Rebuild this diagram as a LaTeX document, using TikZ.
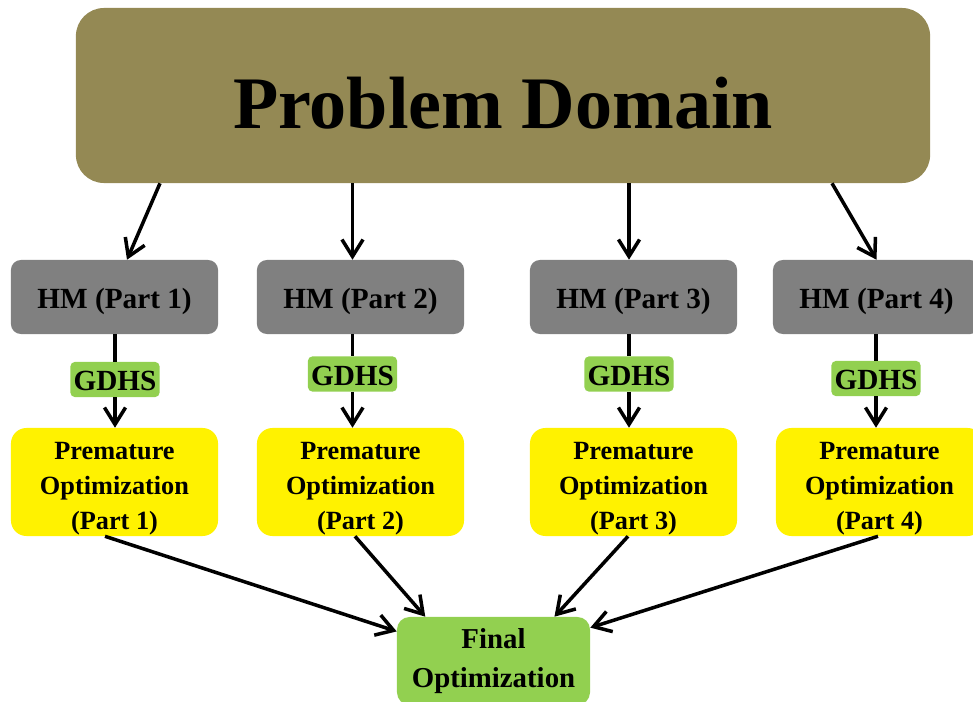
\documentclass[tikz,border=0pt]{standalone}
\usepackage{fontspec}
\setmainfont{Liberation Serif}
\usetikzlibrary{arrows.meta,calc}
\definecolor{domainolive}{RGB}{148,137,84}
\definecolor{hmgray}{RGB}{128,128,128}
\definecolor{gdhsgreen}{RGB}{146,208,80}

\begin{document}
\begin{tikzpicture}[x=0.025cm, y=-0.025cm,
  every node/.style = {shape=rectangle, align=center, inner sep=0pt},
  pdbox/.style = {fill=domainolive, rounded corners=20pt,
    minimum width=21.35cm, minimum height=4.375cm,
    font=\fontsize{52.7}{60}\selectfont\bfseries,
    text height=47pt, text depth=0pt},
  hmbox/.style = {fill=hmgray, rounded corners=7pt,
    minimum width=5.175cm, minimum height=1.85cm,
    font=\fontsize{20.8}{25}\selectfont\bfseries,
    text height=21pt, text depth=4.5pt},
  gdhsbox/.style = {fill=gdhsgreen, rounded corners=3pt,
    minimum width=2.225cm, minimum height=0.875cm,
    font=\fontsize{20.8}{25}\selectfont\bfseries,
    text height=16pt, text depth=0pt},
  prebox/.style = {fill=yellow, rounded corners=11pt,
    minimum width=5.175cm, minimum height=2.7cm,
    font=\fontsize{18.7}{24.9}\selectfont\bfseries,
    text height=72pt, text depth=4pt},
  finalbox/.style = {fill=gdhsgreen, rounded corners=9pt,
    minimum width=4.825cm, minimum height=2.2cm,
    font=\fontsize{20.5}{27.7}\selectfont\bfseries},
  wire/.style = {line width=2.5pt},
  link/.style = {wire, -{Straight Barb[length=12pt,width=15pt]}}]
  \useasboundingbox (0,0) rectangle (973,702);

  \node [pdbox] (pd) at (503,95.5) {Problem Domain};

  % heuristic method for each part
  \node [hmbox] (hm1) at (114.5,297) {HM (Part 1)};
  \node [hmbox] (hm2) at (360.5,297) {HM (Part 2)};
  \node [hmbox] (hm3) at (633.5,297) {HM (Part 3)};
  \node [hmbox] (hm4) at (876.5,297) {HM (Part 4)};

  \node [gdhsbox] (gd1) at (115,379.5) {GDHS};
  \node [gdhsbox] (gd2) at (352.5,374) {GDHS};
  \node [gdhsbox] (gd3) at (629,374) {GDHS};
  \node [gdhsbox] (gd4) at (876,378.5) {GDHS};

  \node [prebox] (pre1) at (114.5,482) {Premature\\Optimization\\(Part 1)};
  \node [prebox] (pre2) at (360.5,482) {Premature\\Optimization\\(Part 2)};
  \node [prebox] (pre3) at (633.5,482) {Premature\\Optimization\\(Part 3)};
  \node [prebox] (pre4) at (879.5,482) {Premature\\Optimization\\(Part 4)};

  \node [finalbox] (fin) at (493.5,661) {Final\\Optimization};

  % domain split into parts
  \draw [link] ($(pd.south)+(-343,0)$) -- ($(hm1.north)+(12.5,0)$);
  \draw [link] (pd.south -| gd2) -- (hm2.north -| gd2);
  \draw [link] (pd.south -| gd3) -- (hm3.north -| gd3);
  \draw [link] ($(pd.south)+(329,0)$) -- (hm4.north);

  % HM -> GDHS -> premature optimization
  \draw [wire] (hm1.south -| gd1) -- (gd1.north);
  \draw [wire] (hm2.south -| gd2) -- (gd2.north);
  \draw [wire] (hm3.south -| gd3) -- (gd3.north);
  \draw [wire] (hm4.south -| gd4) -- (gd4.north);
  \draw [link] (gd1.south) -- (gd1 |- pre1.north);
  \draw [link] (gd2.south) -- (gd2 |- pre2.north);
  \draw [link] (gd3.south) -- (gd3 |- pre3.north);
  \draw [link] (gd4.south) -- (gd4 |- pre4.north);

  % parts merged into the final optimization
  \draw [link] ($(pre1.south)+(-9.5,0)$) -- (fin.163);
  \draw [link] ($(pre2.south)+(-5.5,0)$) -- (fin.147);
  \draw [link] ($(pre3.south)+(-5.5,0)$) -- (fin.36);
  \draw [link] ($(pre4.south)+(-1.5,0)$) -- (fin.19);
\end{tikzpicture}
\end{document}
